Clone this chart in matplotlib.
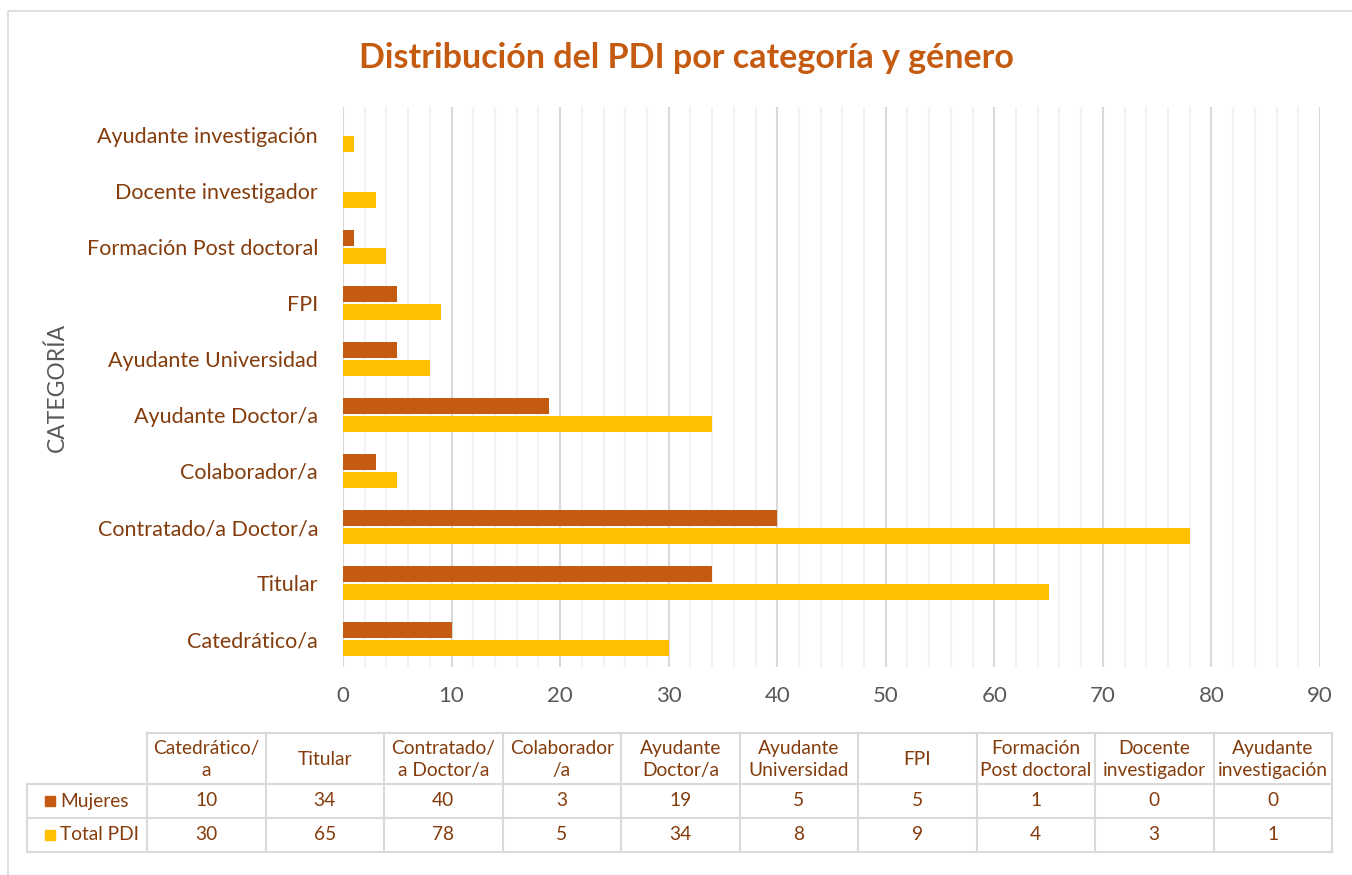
import matplotlib
matplotlib.use("Agg")
import matplotlib.pyplot as plt
from matplotlib.patches import Rectangle

plt.rcParams['font.family'] = ['Lato', 'DejaVu Sans']

categories = ["Catedrático/a", "Titular", "Contratado/a Doctor/a", "Colaborador/a",
              "Ayudante Doctor/a", "Ayudante Universidad", "FPI",
              "Formación Post doctoral", "Docente investigador", "Ayudante investigación"]
table_headers = ["Catedrático/\na", "Titular", "Contratado/\na Doctor/a", "Colaborador\n/a",
                 "Ayudante\nDoctor/a", "Ayudante\nUniversidad", "FPI",
                 "Formación\nPost doctoral", "Docente\ninvestigador", "Ayudante\ninvestigación"]
mujeres = [10, 34, 40, 3, 19, 5, 5, 1, 0, 0]
total_pdi = [30, 65, 78, 5, 34, 8, 9, 4, 3, 1]
series_names = ["Mujeres", "Total PDI"]
colors = ["#C55A11", "#FFC000"]
title = "Distribución del PDI por categoría y género"

W, H = 1352, 875
fig = plt.figure(figsize=(W / 100, H / 100), dpi=100)

# plot area
left, right, top, bottom = 343, 1320, 107, 667
ax = fig.add_axes([left / W, 1 - bottom / H, (right - left) / W, (bottom - top) / H])
ypos = list(range(len(categories)))
off, bh = 0.165, 0.28
ax.barh([y + off for y in ypos], mujeres, height=bh, color=colors[0], zorder=3)
ax.barh([y - off for y in ypos], total_pdi, height=bh, color=colors[1], zorder=3)
ax.set_xlim(0, 90)
ax.set_ylim(-0.5, len(categories) - 0.5)
ax.set_xticks(range(0, 91, 10))
ax.set_xticks(range(0, 91, 2), minor=True)
ax.grid(axis='x', which='major', color='#D9D9D9', linewidth=1.5, zorder=1)
ax.grid(axis='x', which='minor', color='#F2F2F2', linewidth=1.5, zorder=0)
ax.set_yticks(ypos)
ax.set_yticklabels(categories)
for s in ax.spines.values():
    s.set_visible(False)
ax.tick_params(axis='both', which='both', length=0)
ax.tick_params(axis='x', labelsize=16, labelcolor='#595959', pad=14)
ax.tick_params(axis='y', labelsize=15.5, labelcolor='#843C0C', pad=18)
ax.set_ylabel("CATEGORÍA", fontsize=16.5, color='#595959')
ax.yaxis.set_label_coords((68 - left) / (right - left), 0.5)

# overlay for title, border and data table
ov = fig.add_axes([0, 0, 1, 1], zorder=-1)
ov.set_xlim(0, W)
ov.set_ylim(H, 0)
ov.axis('off')
ov.add_patch(Rectangle((8, 11), W + 20, H, fill=False, edgecolor='#D9D9D9', linewidth=1.2))
ov.text(686, 58, title, ha='center', va='center', fontsize=24.5, fontweight='bold',
        color='#C55A11')

tab_left, col0, col_w = 27, 147, 118.5
rows_y = [733, 784, 818, 852]
ncol = len(categories)
tab_right = col0 + ncol * col_w
lc = '#D9D9D9'
lw = 1.5
# horizontal lines
ov.plot([col0, tab_right], [rows_y[0], rows_y[0]], color=lc, lw=lw)
for y in rows_y[1:]:
    ov.plot([tab_left, tab_right], [y, y], color=lc, lw=lw)
# vertical lines
ov.plot([tab_left, tab_left], [rows_y[1], rows_y[3]], color=lc, lw=lw)
for i in range(ncol + 1):
    x = col0 + i * col_w
    ov.plot([x, x], [rows_y[0], rows_y[3]], color=lc, lw=lw)
tc = '#843C0C'
fs = 13.8
for i, h in enumerate(table_headers):
    ov.text(col0 + (i + 0.5) * col_w, (rows_y[0] + rows_y[1]) / 2 + 1, h, ha='center',
            va='center', fontsize=fs, color=tc, linespacing=1.4)
for r, (vals, name, c) in enumerate(zip([mujeres, total_pdi], series_names, colors)):
    yc = (rows_y[r + 1] + rows_y[r + 2]) / 2
    ov.add_patch(Rectangle((45, yc - 5), 10, 10, color=c))
    ov.text(60, yc, name, ha='left', va='center', fontsize=fs, color=tc)
    for i, v in enumerate(vals):
        ov.text(col0 + (i + 0.5) * col_w, yc, str(v), ha='center', va='center',
                fontsize=fs, color=tc)

fig.savefig("out.png", dpi=100)
